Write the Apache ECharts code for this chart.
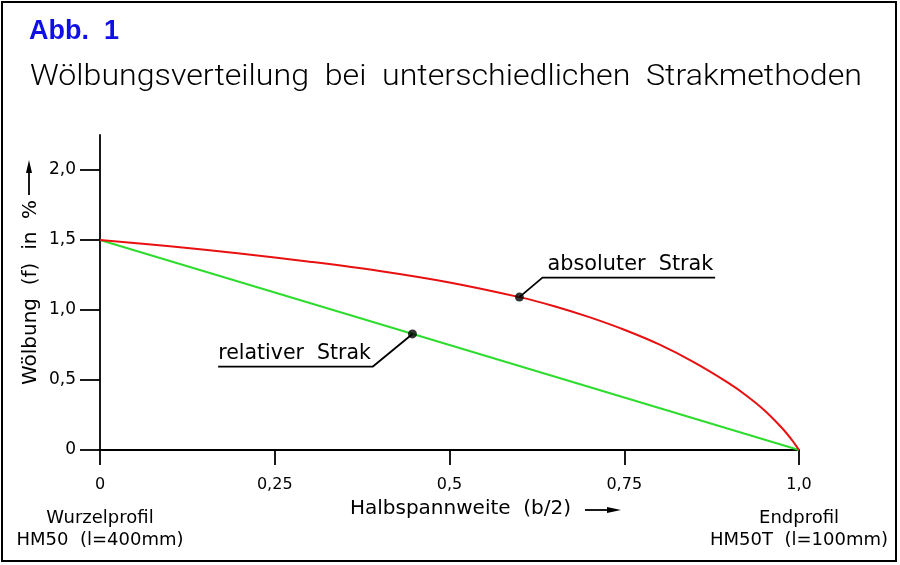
<!DOCTYPE html>
<html>
<head>
<meta charset="utf-8">
<script src="https://cdn.jsdelivr.net/npm/echarts@6/dist/echarts.min.js"></script>
<style>
html,body{margin:0;padding:0;background:#fff;}
#chart{width:900px;height:565px;}
</style>
</head>
<body>
<div id="chart"></div>
<script>
// ---- data ----
const spanX = [0, 0.1, 0.2, 0.3, 0.4, 0.5, 0.6, 0.65, 0.7, 0.75, 0.8, 0.85, 0.9, 0.925, 0.95, 0.975, 0.99, 1.0];
const absoluteStrak = [1.5, 1.455, 1.403, 1.345, 1.279, 1.197, 1.092, 1.027, 0.949, 0.859, 0.754, 0.626, 0.476, 0.388, 0.286, 0.161, 0.071, 0];
const relativeX = [0, 1.0];
const relativeStrak = [1.5, 0];
const markerX = [0.6, 0.447];
const markerY = [1.092, 0.829];
const leaderAbsX = [0.6, 0.633, 0.88];
const leaderAbsY = [1.092, 1.231, 1.231];
const leaderRelX = [0.447, 0.39, 0.169];
const leaderRelY = [0.829, 0.595, 0.595];
const xTickValues = [0, 0.25, 0.5, 0.75, 1.0];
const xTickLabels = ['0', '0,25', '0,5', '0,75', '1,0'];
const yTickValues = [0, 0.5, 1.0, 1.5, 2.0];
const yTickLabels = ['0', '0,5', '1,0', '1,5', '2,0'];
const rootProfile = ['Wurzelprofil', 'HM50  (l=400mm)'];
const tipProfile = ['Endprofil', 'HM50T  (l=100mm)'];
const titleNumber = 'Abb.  1';
const titleText = 'Wölbungsverteilung  bei  unterschiedlichen  Strakmethoden';
const xName = 'Halbspannweite  (b/2)';
const yName = 'Wölbung  (f)  in  %';
const absLabel = 'absoluter  Strak';
const relLabel = 'relativer  Strak';

const FONT = '"DejaVu Sans", sans-serif';
const zip = (a, b) => a.map((v, i) => [v, b[i]]);

function xLabelFmt(v) {
  const i = xTickValues.findIndex(t => Math.abs(t - v) < 1e-9);
  if (i < 0) return '';
  let s = '{v|' + xTickLabels[i] + '}';
  if (i === 0) s += '\n{p|' + rootProfile[0] + '}\n{p|' + rootProfile[1] + '}';
  if (i === xTickValues.length - 1) s += '\n{p|' + tipProfile[0] + '}\n{p|' + tipProfile[1] + '}';
  return s;
}
function yLabelFmt(v) {
  const i = yTickValues.findIndex(t => Math.abs(t - v) < 1e-9);
  return i < 0 ? '' : yTickLabels[i];
}

// measure title width to stretch it like the CAD font
const TITLE_FONT = '300 29px Roboto, "Noto Sans", "DejaVu Sans", sans-serif';
const cv = document.createElement('canvas').getContext('2d');
cv.font = TITLE_FONT;
const titleW = cv.measureText(titleText).width;
const titleScale = 832 / titleW;

const chart = echarts.init(document.getElementById('chart'), null, {renderer: 'canvas'});
const leaderStyle = {color: '#000', width: 1.8};
chart.setOption({
  animation: false,
  backgroundColor: '#fff',
  grid: {left: 100, right: 101, top: 135, bottom: 115, containLabel: false, outerBoundsMode: 'none'},
  xAxis: {
    type: 'value', min: 0, max: 1.0, interval: 0.25,
    axisLine: {show: true, onZero: false, lineStyle: {color: '#000', width: 1.8}},
    axisTick: {show: true, length: 15, lineStyle: {color: '#000', width: 1.8}},
    splitLine: {show: false},
    axisLabel: {
      margin: 13, color: '#000', fontFamily: FONT, verticalAlign: 'top',
      formatter: xLabelFmt,
      rich: {
        v: {fontSize: 16, fontFamily: FONT, color: '#000', lineHeight: 44},
        p: {fontSize: 18, fontFamily: FONT, color: '#000', lineHeight: 22}
      }
    },
    name: xName, nameLocation: 'middle', nameGap: 49, nameMoveOverlap: false,
    nameTextStyle: {fontSize: 20, fontFamily: FONT, color: '#000', padding: [0, 0, 0, 22]}
  },
  yAxis: {
    type: 'value', min: 0, max: 2.25,
    axisLine: {show: true, lineStyle: {color: '#000', width: 1.8}},
    axisTick: {show: true, length: 20, customValues: yTickValues, lineStyle: {color: '#000', width: 1.8}},
    splitLine: {show: false},
    axisLabel: {margin: 24, fontSize: 17, fontFamily: FONT, color: '#000', customValues: yTickValues, formatter: yLabelFmt},
    name: yName, nameLocation: 'middle', nameRotate: 90, nameGap: 59, nameMoveOverlap: false,
    nameTextStyle: {fontSize: 20, fontFamily: FONT, color: '#000'}
  },
  series: [
    {
      type: 'line', data: zip(relativeX, relativeStrak), showSymbol: false, symbol: 'none',
      lineStyle: {color: '#2ddc2d', width: 2}, z: 2
    },
    {
      type: 'line', data: zip(spanX, absoluteStrak), smooth: 0.35, showSymbol: false, symbol: 'none',
      lineStyle: {color: '#e81010', width: 2}, z: 3
    },
    {
      type: 'line', symbol: 'circle', symbolSize: 0.1, showSymbol: true,
      lineStyle: leaderStyle, itemStyle: {color: '#000'}, z: 4,
      data: zip(leaderAbsX, leaderAbsY).map((p, i) => i === 1 ? {
        value: p,
        label: {show: true, position: 'right', distance: 5, formatter: absLabel, verticalAlign: 'bottom', offset: [0, -3],
                fontSize: 20.8, fontFamily: FONT, color: '#000'}
      } : {value: p})
    },
    {
      type: 'line', symbol: 'circle', symbolSize: 0.1, showSymbol: true,
      lineStyle: leaderStyle, itemStyle: {color: '#000'}, z: 4,
      data: zip(leaderRelX, leaderRelY).map((p, i) => i === 2 ? {
        value: p,
        label: {show: true, position: 'right', distance: 0, formatter: relLabel, verticalAlign: 'bottom', offset: [0, -3],
                fontSize: 20.5, fontFamily: FONT, color: '#000'}
      } : {value: p})
    },
    {
      type: 'scatter', data: zip(markerX, markerY), symbol: 'circle', symbolSize: 9,
      itemStyle: {color: '#000'}, z: 5
    }
  ],
  graphic: [
    {type: 'rect', shape: {x: 2, y: 2, width: 894, height: 559}, style: {fill: 'none', stroke: '#000', lineWidth: 2}, silent: true},
    {type: 'text', x: 29, y: 18, style: {text: titleNumber, font: 'bold 27px "Liberation Sans", Arial, sans-serif', fill: '#1010e6'}},
    {type: 'text', x: 30, y: 63, scaleX: titleScale, style: {text: titleText, font: TITLE_FONT, fill: '#000'}},
    // y-axis arrow
    {type: 'line', shape: {x1: 29, y1: 195, x2: 29, y2: 170}, style: {stroke: '#000', lineWidth: 1.8}},
    {type: 'polygon', shape: {points: [[29, 160], [26, 173], [32, 173]]}, style: {fill: '#000'}},
    // x-axis arrow
    {type: 'line', shape: {x1: 585, y1: 510, x2: 609, y2: 510}, style: {stroke: '#000', lineWidth: 1.8}},
    {type: 'polygon', shape: {points: [[621, 510], [607, 507], [607, 513]]}, style: {fill: '#000'}}
  ]
});
</script>
</body>
</html>
